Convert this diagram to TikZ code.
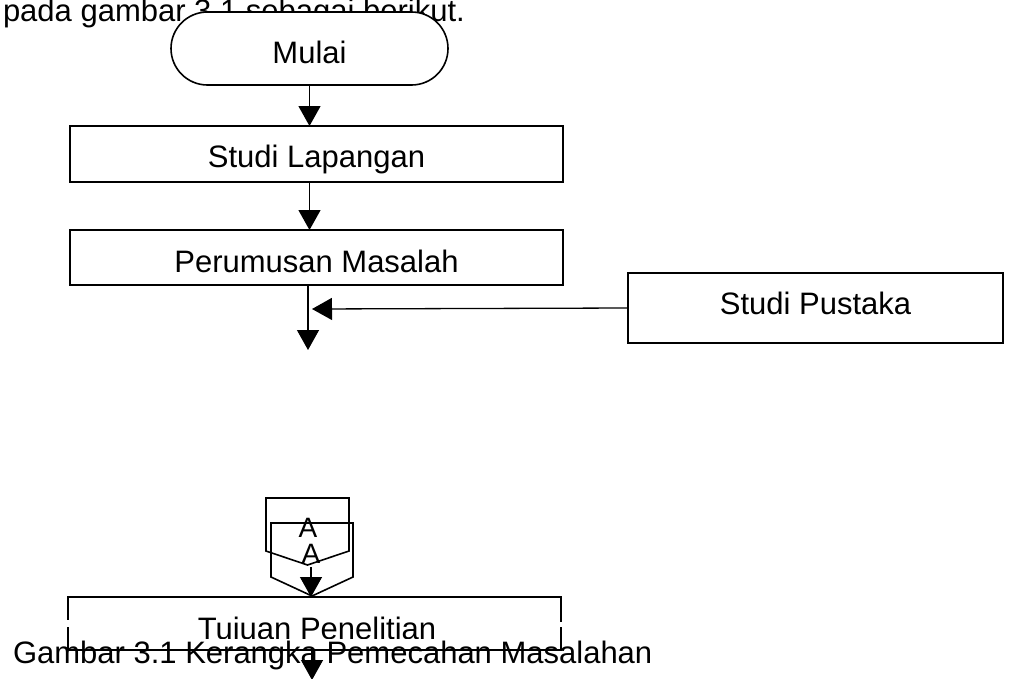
\documentclass[tikz,border=0pt]{standalone}
\usepackage{fontspec}
\setmainfont{Liberation Sans}
\usetikzlibrary{arrows.meta,shapes.misc}
\begin{document}
\begin{tikzpicture}[x=1pt,y=-1pt,
  every node/.style={inner sep=0pt, outer sep=0pt, font=\fontsize{31}{37}\selectfont},
  procbox/.style={draw, line width=2pt, rectangle, text height=26pt, text depth=0pt},
  terminal/.style={draw, line width=1.6pt, rounded rectangle, fill=white,
    minimum width=277pt, minimum height=73pt, text height=29pt, text depth=0pt},
  arr/.style={line width=1.3pt, -{Triangle[width=22pt,length=20pt]}},
  offpage/.style={line width=1.6pt, line join=miter},
  conlabel/.style={font=\fontsize{28}{32}\selectfont, anchor=base},
]
\clip (0,0) rectangle (1009,678);
\fill[white] (0,0) rectangle (1009,678);

% running text above the chart
\node[anchor=base west] (intro) at (3,21) {pada gambar 3.1 sebagai berikut.};

% start terminal and process boxes
\node[terminal] (mulai) at (309.5,48.5) {Mulai};
\node[procbox, minimum width=493pt, minimum height=56pt] (lapangan) at (316.5,154) {Studi Lapangan};
\node[procbox, minimum width=493pt, minimum height=55pt, text height=29pt] (perumusan) at (316.5,257.5) {Perumusan Masalah};
\node[procbox, minimum width=375pt, minimum height=70pt, text height=22pt, text depth=10pt] (pustaka) at (815.5,308) {Studi Pustaka};

% free ends of the connectors
\coordinate (down) at (308,350);
\coordinate (join) at (312,309);
\coordinate (exit) at (312,680);

\draw[arr] (mulai.south) -- (mulai.south |- lapangan.north);
\draw[arr] (lapangan.south -| mulai.south) -- (perumusan.north -| mulai.south);
\draw[arr] (perumusan.south -| down) -- (down);
\draw[arr] (pustaka.west) -- (join);

% off-page connectors
\draw[offpage] (266,498) -- (349,498) -- (349,551) -- (307.5,565) -- (266,551) -- cycle;
\node[conlabel] (a1) at (308,537) {A};
\draw[offpage] (271,523) -- (353,523) -- (353,577) -- (312,596) -- (271,577) -- cycle;
\node[conlabel] (a2) at (311,563) {A};

% goal box
\node[draw, line width=2pt, rectangle, minimum width=493pt, minimum height=53pt] (tujuan) at (314.5,623.5) {};
\fill[white] (65,620) rectangle (71,627);
\fill[white] (558,622) rectangle (564,627);
\begin{scope}
  \clip (60,614.5) rectangle (570,638.5);
  \node[anchor=base] (tujuantxt) at (317,639.5) {Tujuan Penelitian};
\end{scope}

\draw[arr, shorten <=4pt] (a2.south) -- (a2.south |- tujuan.north);
\draw[arr] (tujuan.south -| exit) -- (exit);

% caption
\node[anchor=base west] (caption) at (13,663) {Gambar 3.1 Kerangka Pemecahan Masalahan};
\end{tikzpicture}
\end{document}
